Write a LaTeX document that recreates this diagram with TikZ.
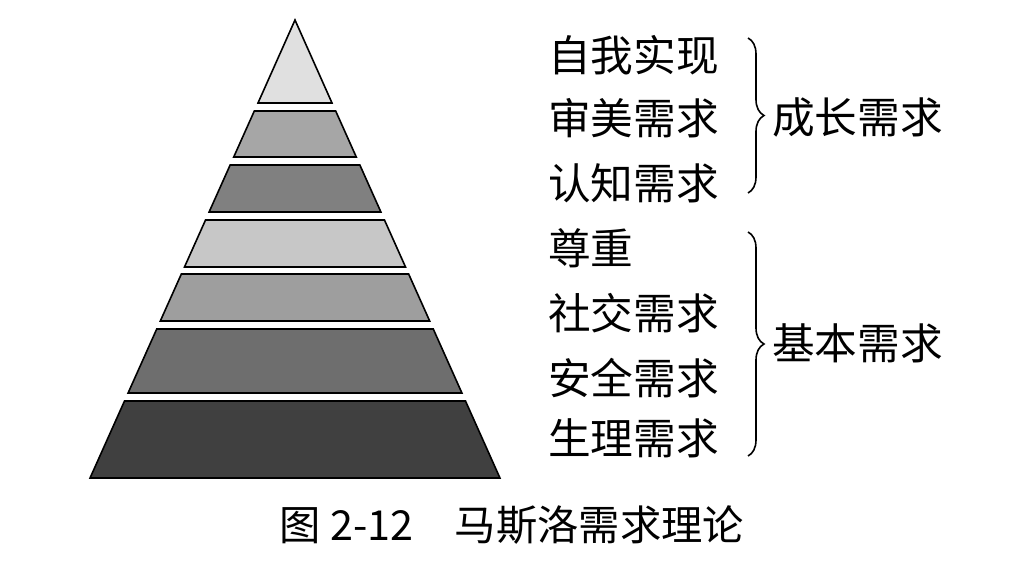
\documentclass[tikz,border=0pt]{standalone}
\usepackage{fontspec}
\newfontfamily\cjk{Noto Sans CJK SC}
\usetikzlibrary{decorations.pathreplacing}
\tikzstyle{layer} = [draw=black, line width=1.2pt]
\tikzstyle{need} = [anchor=west, font=\cjk\fontsize{32}{32}\selectfont, inner sep=0pt]
\tikzstyle{group} = [anchor=west, font=\cjk\fontsize{32}{32}\selectfont, inner sep=0pt]
\tikzstyle{brace} = [draw, line width=1.2pt, decorate, decoration={brace, amplitude=12pt}]

\begin{document}
\begin{tikzpicture}[x=0.75pt, y=-0.75pt]
            \useasboundingbox (0,0) rectangle (1024,588);
            % pyramid layers: top, bottom, grey level
            \fill[white] (0,0) rectangle (1024,588);
            \draw[layer, fill=black!12] (295,20) -- (258,103) -- (332,103) -- cycle;
            \foreach \ya/\yb/\g in {111/157/35, 165/212/50, 220/267/22, 274/321/38, 329/393/57, 401/478/75}
              \draw[layer, fill=black!\g] (295-0.4476*\ya+9,\ya) -- (295+0.4476*\ya-9,\ya) -- (295+0.4476*\yb-9,\yb) -- (295-0.4476*\yb+9,\yb) -- cycle;

            \node [need] (self) at (548,55) {自我实现};
            \node [need] (aes) at (548,118) {审美需求};
            \node [need] (cog) at (548,183) {认知需求};
            \node [need] (esteem) at (548,248) {尊重};
            \node [need] (social) at (548,313) {社交需求};
            \node [need] (safe) at (548,378) {安全需求};
            \node [need] (phys) at (548,438) {生理需求};

            \coordinate (b1) at (748,38);
            \coordinate (b2) at (748,193);
            \coordinate (b3) at (748,232);
            \coordinate (b4) at (748,456);
            \draw [brace] (b1) -- (b2);
            \draw [brace] (b3) -- (b4);
            \node [group] (grow) at (772,117) {成长需求};
            \node [group] (basic) at (772,343) {基本需求};

            \node [font=\cjk\fontsize{31}{31}\selectfont] (cap) at (512,525) {图 2-12\quad 马斯洛需求理论};
        \end{tikzpicture}
\end{document}
